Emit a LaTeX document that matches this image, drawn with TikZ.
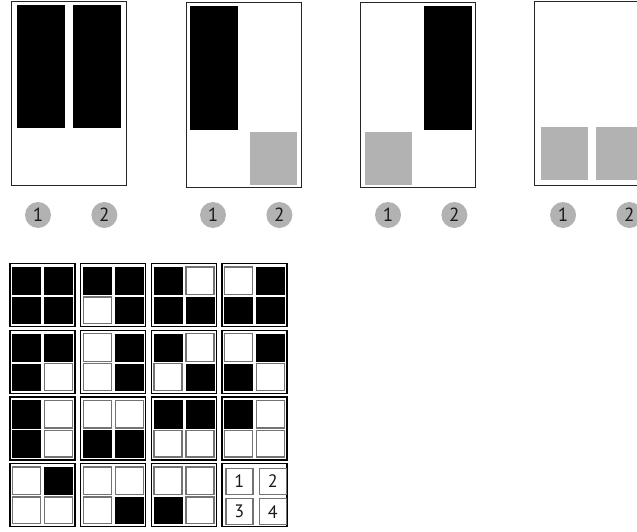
\documentclass[tikz,border=0pt]{standalone}
\usepackage{fontspec}
\setmainfont{PT Sans}
\usetikzlibrary{positioning}
\tikzset{
  pframe/.style={draw=black!85, line width=1pt, fill=white},
  pblack/.style={fill=black},
  pgray/.style={fill=black!30},
  pnum/.style={circle, fill=black!30, minimum size=26pt, inner sep=0pt, text=black!90, font=\fontsize{19}{19}\selectfont},
  tframe/.style={draw=black, line width=1.4pt, fill=white},
  cell0/.style={draw=black!55, line width=1.4pt, fill=white},
  cell1/.style={fill=black},
  tnum/.style={cell0, minimum width=27pt, minimum height=26pt, inner sep=0pt, anchor=north west, text=black!90, font=\fontsize{18}{18}\selectfont}
}

\begin{document}
\begin{tikzpicture}[x=1pt, y=-1pt]
  \useasboundingbox (0,0) rectangle (637,532);
  \clip (0,0) rectangle (637,532);

  % --- Panel 1: both bars ---
  \draw[pframe] (11,1.5) rectangle (126,185);
  \fill[pblack] (17,5) rectangle (65,128);
  \fill[pblack] (73,5) rectangle (121,128);
  \node[pnum] (p1a) at (38,215) {1};
  \node[pnum, right=40pt of p1a] (p1b) {2};

  % --- Panel 2: left bar, right block ---
  \draw[pframe] (186,3) rectangle (301,187);
  \fill[pblack] (190,6) rectangle (238,130);
  \fill[pgray] (250,132) rectangle (297,185);
  \node[pnum] (p2a) at (213,215) {1};
  \node[pnum, right=40pt of p2a] (p2b) {2};

  % --- Panel 3: left block, right bar ---
  \draw[pframe] (360,3) rectangle (475,187);
  \fill[pgray] (365,132) rectangle (412,185);
  \fill[pblack] (424,6) rectangle (472,130);
  \node[pnum] (p3a) at (388,215) {1};
  \node[pnum, right=40pt of p3a] (p3b) {2};

  % --- Panel 4: both blocks ---
  \draw[pframe] (534,1.5) rectangle (649,185);
  \fill[pgray] (541,127) rectangle (588,180);
  \fill[pgray] (596,127) rectangle (643,180);
  \node[pnum] (p4a) at (563,215) {1};
  \node[pnum, right=40pt of p4a] (p4b) {2};

  % --- Tile grid: cells 1 2 / 3 4, 1 = black ---
  \foreach \i/\j/\a/\b/\c/\d in {
    0/0/1/1/1/1, 1/0/1/1/0/1, 2/0/1/0/1/1, 3/0/0/1/1/1,
    0/1/1/1/1/0, 1/1/0/1/0/1, 2/1/1/0/0/1, 3/1/0/1/1/0,
    0/2/1/0/1/0, 1/2/0/0/1/1, 2/2/1/1/0/0, 3/2/1/0/0/0,
    0/3/0/1/0/0, 1/3/0/0/0/1, 2/3/0/0/1/0}
  {
    \begin{scope}[shift={(10+70.7*\i, 263.5+66.7*\j)}]
      \draw[tframe] (0,0) rectangle (65,63);
      \draw[cell\a] (2.5,3.5) rectangle (30.5,31);
      \draw[cell\b] (34.5,3.5) rectangle (62.5,31);
      \draw[cell\c] (2.5,33.5) rectangle (30.5,60);
      \draw[cell\d] (34.5,33.5) rectangle (62.5,60);
    \end{scope}
  }

  % --- Legend tile ---
  \draw[tframe] (222.1,463.6) rectangle (287.1,526.6);
  \node[tnum] (t1) at (225.1,467.6) {1};
  \node[tnum, right=5pt of t1] (t2) {2};
  \node[tnum, below=3pt of t1] (t3) {3};
  \node[tnum, right=5pt of t3] (t4) {4};
\end{tikzpicture}
\end{document}
